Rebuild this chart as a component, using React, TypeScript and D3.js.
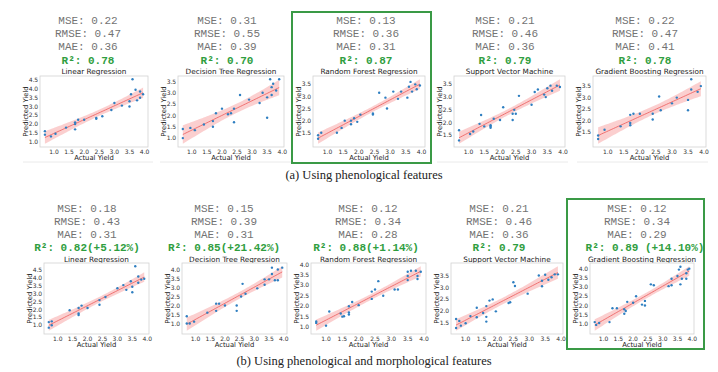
import React from 'react';
import * as d3 from 'd3';

// ---------- data ----------
const modelTitles = [
  'Linear Regression',
  'Decision Tree Regression',
  'Random Forest Regression',
  'Support Vector Machine',
  'Gradient Boosting Regression',
];

const msePheno = ['0.22', '0.31', '0.13', '0.21', '0.22'];
const rmsePheno = ['0.47', '0.55', '0.36', '0.46', '0.47'];
const maePheno = ['0.36', '0.39', '0.31', '0.36', '0.41'];
const r2Pheno = ['0.78', '0.70', '0.87', '0.79', '0.78'];

const mseBoth = ['0.18', '0.15', '0.12', '0.21', '0.12'];
const rmseBoth = ['0.43', '0.39', '0.34', '0.46', '0.34'];
const maeBoth = ['0.31', '0.31', '0.28', '0.36', '0.29'];
const r2Both = ['0.82(+5.12%)', '0.85(+21.42%)', '0.88(+1.14%)', '0.79', '0.89 (+14.10%)'];

const captionA = '(a) Using phenological features';
const captionB = '(b) Using phenological and morphological features';

const xTicks = [1.0, 1.5, 2.0, 2.5, 3.0, 3.5, 4.0];
const yTicksPheno = [
  [1.0, 1.5, 2.0, 2.5, 3.0, 3.5, 4.0, 4.5],
  [1.0, 1.5, 2.0, 2.5, 3.0, 3.5],
  [1.5, 2.0, 2.5, 3.0, 3.5],
  [1.5, 2.0, 2.5, 3.0, 3.5],
  [1.5, 2.0, 2.5, 3.0, 3.5],
];
const yTicksBoth = [
  [1.0, 1.5, 2.0, 2.5, 3.0, 3.5, 4.0, 4.5],
  [1.0, 1.5, 2.0, 2.5, 3.0, 3.5, 4.0],
  [1.0, 1.5, 2.0, 2.5, 3.0, 3.5, 4.0],
  [1.0, 1.5, 2.0, 2.5, 3.0, 3.5],
  [1.0, 1.5, 2.0, 2.5, 3.0, 3.5, 4.0],
];

// phenological features
const xA1 = [0.7, 0.7, 0.9, 1.05, 1.4, 1.7, 1.7, 1.7, 1.8, 2.0, 2.4, 2.4, 2.6, 2.9, 3.0, 3.25, 3.5, 3.5, 3.55, 3.6, 3.7, 3.75, 3.85, 3.85, 3.95];
const yA1 = [1.6, 1.4, 1.3, 1.45, 1.8, 2.0, 2.1, 1.7, 2.25, 2.25, 2.35, 2.3, 2.45, 2.8, 3.2, 3.05, 3.3, 3.0, 3.7, 4.55, 3.95, 3.35, 3.85, 3.5, 3.7];
const xA2 = [0.7, 0.7, 0.95, 1.1, 1.4, 1.7, 1.7, 1.8, 2.0, 2.2, 2.3, 2.4, 2.4, 2.6, 2.9, 3.25, 3.35, 3.5, 3.5, 3.6, 3.65, 3.65, 3.7, 3.8, 3.9];
const yA2 = [1.4, 1.0, 1.45, 1.35, 1.6, 1.75, 1.5, 2.1, 2.3, 2.05, 2.1, 2.3, 1.7, 2.9, 2.7, 2.55, 3.0, 1.9, 2.8, 3.6, 2.9, 3.25, 3.4, 3.1, 3.6];
const xA3 = [0.7, 0.7, 0.8, 1.3, 1.45, 1.55, 1.75, 1.75, 1.85, 1.95, 2.05, 2.45, 2.45, 2.65, 2.85, 2.9, 3.1, 3.25, 3.35, 3.55, 3.6, 3.65, 3.7, 3.8, 3.85, 3.95];
const yA3 = [1.4, 1.25, 1.5, 1.5, 1.7, 2.0, 1.85, 2.0, 2.1, 1.95, 2.25, 2.3, 2.25, 3.15, 2.95, 2.5, 3.2, 2.9, 3.2, 2.95, 3.4, 3.6, 3.2, 3.5, 3.3, 3.45];
const xA4 = [0.7, 0.7, 1.05, 1.15, 1.35, 1.4, 1.5, 1.7, 1.7, 1.7, 1.8, 2.0, 2.1, 2.4, 2.4, 2.45, 2.5, 2.6, 3.0, 3.1, 3.2, 3.4, 3.45, 3.5, 3.6, 3.65, 3.8, 3.9];
const yA4 = [1.7, 1.3, 1.55, 1.65, 1.95, 2.3, 1.85, 1.9, 1.85, 1.8, 2.15, 2.1, 2.6, 2.35, 2.1, 2.5, 2.35, 3.05, 2.7, 3.2, 3.3, 3.1, 3.0, 3.35, 3.45, 3.25, 3.45, 3.4];
const xA5 = [0.7, 0.7, 0.9, 1.4, 1.7, 1.7, 1.7, 1.8, 2.0, 2.4, 2.4, 2.6, 2.65, 3.0, 3.15, 3.5, 3.5, 3.6, 3.6, 3.8, 3.9];
const yA5 = [1.35, 1.2, 1.6, 1.75, 2.25, 1.9, 1.8, 2.3, 2.3, 2.3, 2.05, 3.05, 2.45, 2.75, 3.0, 2.9, 2.45, 3.8, 3.35, 3.25, 3.5];

// phenological + morphological features
const xB1 = [0.7, 0.7, 0.8, 0.8, 1.4, 1.7, 1.7, 1.7, 1.8, 2.0, 2.4, 2.4, 2.6, 3.0, 3.2, 3.3, 3.45, 3.5, 3.5, 3.6, 3.7, 3.7, 3.8, 3.9];
const yB1 = [0.85, 1.2, 1.25, 1.0, 1.95, 2.1, 1.75, 1.65, 2.25, 2.1, 2.6, 2.3, 2.8, 3.35, 3.55, 3.25, 3.8, 3.45, 3.1, 4.75, 4.1, 3.7, 3.9, 3.95];
const xB2 = [0.7, 0.7, 0.8, 0.95, 1.4, 1.7, 1.7, 1.8, 2.0, 2.4, 2.4, 2.55, 2.6, 2.7, 3.1, 3.35, 3.35, 3.5, 3.6, 3.6, 3.7, 3.8, 3.8, 3.95];
const yB2 = [1.4, 1.0, 1.0, 1.1, 1.6, 2.1, 1.7, 2.1, 2.0, 2.0, 1.7, 2.5, 3.2, 2.65, 2.95, 3.45, 3.15, 3.45, 4.1, 3.75, 3.4, 4.0, 3.4, 4.1];
const xB3 = [0.7, 0.7, 1.0, 1.1, 1.45, 1.5, 1.55, 1.7, 1.7, 1.7, 1.8, 2.0, 2.4, 2.4, 2.5, 2.6, 2.75, 3.1, 3.2, 3.5, 3.5, 3.5, 3.6, 3.75, 3.8, 3.8, 3.9];
const yB3 = [1.27, 1.2, 1.07, 1.75, 1.65, 1.5, 1.52, 1.6, 2.0, 1.7, 2.2, 2.05, 2.35, 2.7, 2.8, 3.2, 2.5, 2.8, 2.8, 3.25, 3.45, 3.65, 3.7, 3.7, 3.3, 3.45, 3.65];
const xB4 = [0.7, 0.7, 0.8, 0.85, 1.0, 1.15, 1.35, 1.35, 1.55, 1.65, 1.65, 1.65, 1.75, 1.85, 1.95, 2.35, 2.4, 2.5, 2.55, 2.95, 3.3, 3.4, 3.4, 3.5, 3.6, 3.7, 3.8, 3.9];
const yB4 = [1.68, 1.3, 1.6, 1.4, 1.5, 1.8, 2.15, 1.75, 1.93, 2.22, 1.77, 1.57, 2.45, 2.5, 2.0, 2.35, 2.38, 3.22, 3.06, 2.74, 3.5, 3.05, 3.28, 3.53, 3.32, 3.43, 3.55, 3.55];
const xB5 = [0.7, 0.75, 0.85, 1.2, 1.3, 1.45, 1.7, 1.7, 1.75, 1.8, 2.0, 2.1, 2.3, 2.4, 2.4, 2.6, 2.7, 3.2, 3.3, 3.3, 3.5, 3.55, 3.6, 3.6, 3.65, 3.8, 3.8, 3.85, 3.9];
const yB5 = [1.1, 0.95, 1.05, 1.1, 1.85, 1.85, 1.8, 1.55, 1.7, 2.2, 2.15, 2.5, 2.05, 2.0, 2.25, 3.15, 3.1, 3.05, 3.45, 3.1, 3.6, 3.95, 4.1, 3.15, 3.45, 3.45, 3.75, 3.95, 4.0];

const xsPheno = [xA1, xA2, xA3, xA4, xA5];
const ysPheno = [yA1, yA2, yA3, yA4, yA5];
const xsBoth = [xB1, xB2, xB3, xB4, xB5];
const ysBoth = [yB1, yB2, yB3, yB4, yB5];

// ---------- layout ----------
const rowA = { top: 76, bottom: 147, textY: 23.8, titleY: 74.3 };
const rowB = { top: 263, bottom: 334, textY: 211.5, titleY: 261.5 };
const layoutA = [
  { L: 40, R: 148, cx: 88, r2cx: 88 },
  { L: 178, R: 284, cx: 227, r2cx: 227 },
  { L: 313, R: 425, cx: 366, r2cx: 366 },
  { L: 454, R: 565, cx: 505, r2cx: 505 },
  { L: 593, R: 706, cx: 645, r2cx: 645 },
];
const layoutB = [
  { L: 44, R: 149, cx: 87, r2cx: 87 },
  { L: 182, R: 287, cx: 224, r2cx: 224 },
  { L: 311, R: 426, cx: 368, r2cx: 366 },
  { L: 451, R: 563, cx: 499, r2cx: 499 },
  { L: 590, R: 694, cx: 637, r2cx: 645 },
];

const GRAY = '#737373';
const GREEN = '#2f9e40';
const MONO = '"Liberation Mono", "DejaVu Sans Mono", monospace';
const SANS = '"DejaVu Sans", sans-serif';

function regression(xs: number[], ys: number[]) {
  const n = xs.length;
  const mx = d3.mean(xs) as number;
  const my = d3.mean(ys) as number;
  let sxx = 0, sxy = 0;
  xs.forEach((x, i) => { sxx += (x - mx) ** 2; sxy += (x - mx) * (ys[i] - my); });
  const b = sxy / sxx;
  const a = my - b * mx;
  let sse = 0;
  xs.forEach((x, i) => { const r = ys[i] - (a + b * x); sse += r * r; });
  const s = Math.sqrt(sse / (n - 2));
  const t = 2.9;
  const [x0, x1] = d3.extent(xs) as [number, number];
  const grid = d3.range(0, 61).map((k) => x0 + ((x1 - x0) * k) / 60);
  return grid.map((x) => {
    const yh = a + b * x;
    const se = s * Math.sqrt(1 / n + (x - mx) ** 2 / sxx);
    return { x, y: yh, lo: yh - t * se, hi: yh + t * se };
  });
}

function Panel({ xs, ys, yTicks, lay, row, title, mse, rmse, mae, r2 }: any) {
  const fitPts = regression(xs, ys);
  const [xmin, xmax] = d3.extent(xs) as [number, number];
  const xpad = (xmax - xmin) * 0.05;
  const ymin = Math.min(d3.min(ys) as number, d3.min(fitPts, (d) => d.lo) as number);
  const ymax = Math.max(d3.max(ys) as number, d3.max(fitPts, (d) => d.hi) as number);
  const ypad = (ymax - ymin) * 0.05;
  const x = d3.scaleLinear().domain([xmin - xpad, xmax + xpad]).range([lay.L, lay.R]);
  const y = d3.scaleLinear().domain([ymin - ypad, ymax + ypad]).range([row.bottom, row.top]);
  const area = d3.area<any>().x((d) => x(d.x)).y0((d) => y(d.lo)).y1((d) => y(d.hi));
  const line = d3.line<any>().x((d) => x(d.x)).y((d) => y(d.y));
  const clipId = `clip-${lay.L}-${row.top}`;
  const ty = row.textY;
  const dy = 13.3;
  const [d0, d1] = y.domain();
  const xt = xTicks.filter((v) => v >= x.domain()[0] && v <= x.domain()[1]);
  const yt = (yTicks as number[]).filter((v) => v >= d0 && v <= d1);
  return (
    <g>
      <text x={lay.cx} y={ty} textAnchor="middle" fontFamily={MONO} fontSize={11} fill={GRAY}>{`MSE: ${mse}`}</text>
      <text x={lay.cx} y={ty + dy} textAnchor="middle" fontFamily={MONO} fontSize={11} fill={GRAY}>{`RMSE: ${rmse}`}</text>
      <text x={lay.cx} y={ty + 2 * dy} textAnchor="middle" fontFamily={MONO} fontSize={11} fill={GRAY}>{`MAE: ${mae}`}</text>
      <text x={lay.r2cx} y={ty + 3 * dy} textAnchor="middle" fontFamily={MONO} fontSize={11} fontWeight="bold" fill={GREEN}>{`R²: ${r2}`}</text>
      <text x={(lay.L + lay.R) / 2} y={row.titleY} textAnchor="middle" fontFamily={SANS} fontSize={7.3} fill="#222">{title}</text>
      <clipPath id={clipId}>
        <rect x={lay.L} y={row.top} width={lay.R - lay.L} height={row.bottom - row.top} />
      </clipPath>
      <rect x={lay.L} y={row.top} width={lay.R - lay.L} height={row.bottom - row.top} fill="#fff" stroke="#d2d2d2" strokeWidth={0.8} />
      <g clipPath={`url(#${clipId})`}>
        <path d={area(fitPts) as string} fill="#f7a8a8" fillOpacity={0.55} stroke="none" />
        <path d={line(fitPts) as string} fill="none" stroke="#ec5b5b" strokeWidth={0.8} />
        {xs.map((v: number, i: number) => (
          <circle key={i} cx={x(v)} cy={y(ys[i])} r={1.2} fill="#2f7fc1" />
        ))}
      </g>
      {xt.map((v) => (
        <text key={'x' + v} x={x(v)} y={row.bottom + 6.5} textAnchor="middle" fontFamily={SANS} fontSize={6} fill="#333">{v.toFixed(1)}</text>
      ))}
      {yt.map((v) => (
        <text key={'y' + v} x={lay.L - 1.8} y={y(v) + 2.1} textAnchor="end" fontFamily={SANS} fontSize={6} fill="#333">{v.toFixed(1)}</text>
      ))}
      <text x={(lay.L + lay.R) / 2} y={row.bottom + 13} textAnchor="middle" fontFamily={SANS} fontSize={6.8} fill="#222">Actual Yield</text>
      <text transform={`translate(${lay.L - 12},${(row.top + row.bottom) / 2}) rotate(-90)`} textAnchor="middle" fontFamily={SANS} fontSize={6.8} fill="#222">Predicted Yield</text>
    </g>
  );
}

export default function App() {
  return (
    <svg width={718} height={372} viewBox="0 0 718 372" style={{ position: 'absolute', left: 0, top: 0, background: '#fff' }}>
      <rect x={0} y={0} width={718} height={372} fill="#fff" />
      {[[23, 153], [160, 292], [437, 568], [577, 708]].map(([a, b], i) => (
        <line key={i} x1={a} x2={b} y1={162} y2={162} stroke="#e4e4e4" strokeWidth={0.8} />
      ))}
      {modelTitles.map((t, i) => (
        <Panel key={'a' + i} xs={xsPheno[i]} ys={ysPheno[i]} yTicks={yTicksPheno[i]} lay={layoutA[i]} row={rowA}
          title={t} mse={msePheno[i]} rmse={rmsePheno[i]} mae={maePheno[i]} r2={r2Pheno[i]} />
      ))}
      {modelTitles.map((t, i) => (
        <Panel key={'b' + i} xs={xsBoth[i]} ys={ysBoth[i]} yTicks={yTicksBoth[i]} lay={layoutB[i]} row={rowB}
          title={t} mse={mseBoth[i]} rmse={rmseBoth[i]} mae={maeBoth[i]} r2={r2Both[i]} />
      ))}
      <rect x={292} y={12} width={139} height={151} fill="none" stroke="#3a9a46" strokeWidth={2} />
      <rect x={567} y={199} width={137} height={150} fill="none" stroke="#3a9a46" strokeWidth={2} />
      <text x={364} y={179} textAnchor="middle" fontFamily='"Liberation Serif", "DejaVu Serif", serif' fontSize={12.5} fill="#222">{captionA}</text>
      <text x={364} y={365} textAnchor="middle" fontFamily='"Liberation Serif", "DejaVu Serif", serif' fontSize={12.5} fill="#222">{captionB}</text>
    </svg>
  );
}
